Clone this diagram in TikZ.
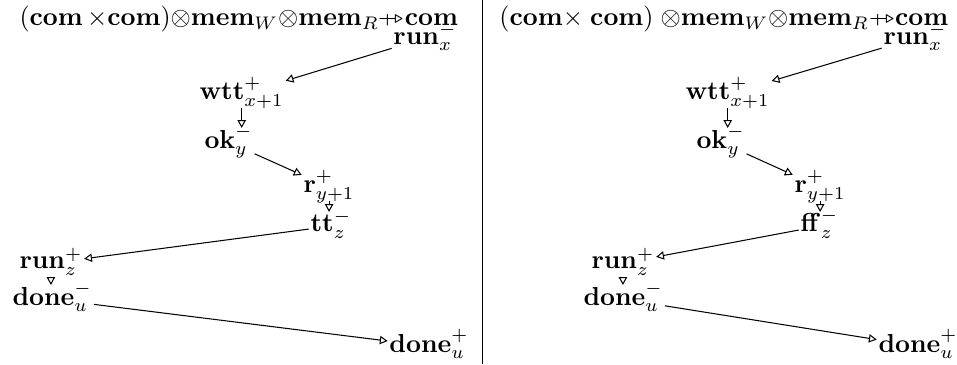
\documentclass[tikz,border=0pt]{standalone}
\usepackage{amsmath}
\usepackage{amssymb}
\usepackage{stmaryrd}
\usepackage{tikz}
\usetikzlibrary{arrows.meta}

\newcommand{\stratto}{\mathord{\rlap{$\mkern4mu\shortmid$}{\rightarrowtriangle}}}

\begin{document}
\begin{tikzpicture}[>={Triangle[open, length=3pt, width=3.2pt]},
    move/.style={inner sep=0.5pt, text height=7pt, text depth=2.5pt, anchor=base west},
    title/.style={inner sep=0pt, anchor=base west}]
      \useasboundingbox (0,0) rectangle (12.933,4.919);

      % Left play: the true branch
      \node[title] (typeL) at (0.257, 4.568) {$(\mathbf{com}\,{\times}\mathbf{com}){\otimes}\mathbf{mem}_W{\otimes}\mathbf{mem}_R\stratto\mathbf{com}$};
      \node[move] (runxL) at (5.293, 4.324) {$\mathbf{run}^-_x$};
      \node[move] (wttL) at (2.672, 3.568) {$\mathbf{wtt}^+_{x+1}$};
      \node[move] (okL) at (2.739, 2.919) {$\mathbf{ok}^-_y$};
      \node[move] (rL) at (4.077, 2.311) {$\mathbf{r}^+_{y+1}$};
      \node[move] (ttL) at (4.172, 1.784) {$\mathbf{tt}^-_z$};
      \node[move] (runzL) at (0.239, 1.284) {$\mathbf{run}^+_z$};
      \node[move] (doneuL) at (0.145, 0.797) {$\mathbf{done}^-_u$};
      \node[move] (donepL) at (5.239, 0.162) {$\mathbf{done}^+_u$};

      \draw[->] (runxL) -- (wttL);
      \draw[->] (wttL) -- (wttL |- okL.north);
      \draw[->] (okL) -- (rL);
      \draw[->] (rL) -- (rL |- ttL.north);
      \draw[->] (ttL) -- (runzL);
      \draw[->] (runzL) -- (runzL |- doneuL.north);
      \draw[->] (doneuL) -- (donepL);

      % Divider
      \coordinate (divtop) at (6.514, 4.919);
      \coordinate (divbot) at (6.514, 0);
      \draw (divtop) -- (divbot);

      % Right play: the false branch
      \node[title] (typeR) at (6.743, 4.568) {$(\mathbf{com}{\times}\;\mathbf{com})\;{\otimes}\mathbf{mem}_W{\otimes}\mathbf{mem}_R\stratto\mathbf{com}$};
      \node[move] (runxR) at (11.915, 4.324) {$\mathbf{run}^-_x$};
      \node[move] (wttR) at (9.240, 3.568) {$\mathbf{wtt}^+_{x+1}$};
      \node[move] (okR) at (9.388, 2.919) {$\mathbf{ok}^-_y$};
      \node[move] (rR) at (10.713, 2.311) {$\mathbf{r}^+_{y+1}$};
      \node[move] (ffR) at (10.794, 1.784) {$\mathbf{ff}^-_z$};
      \node[move] (runzR) at (7.969, 1.284) {$\mathbf{run}^+_z$};
      \node[move] (doneuR) at (7.861, 0.797) {$\mathbf{done}^-_u$};
      \node[move] (donepR) at (11.848, 0.162) {$\mathbf{done}^+_u$};

      \draw[->] (runxR) -- (wttR);
      \draw[->] (wttR) -- (wttR |- okR.north);
      \draw[->] (okR) -- (rR);
      \draw[->] (rR) -- (rR |- ffR.north);
      \draw[->] (ffR) -- (runzR);
      \draw[->] (runzR) -- (runzR |- doneuR.north);
      \draw[->] (doneuR) -- (donepR);
    \end{tikzpicture}
\end{document}
